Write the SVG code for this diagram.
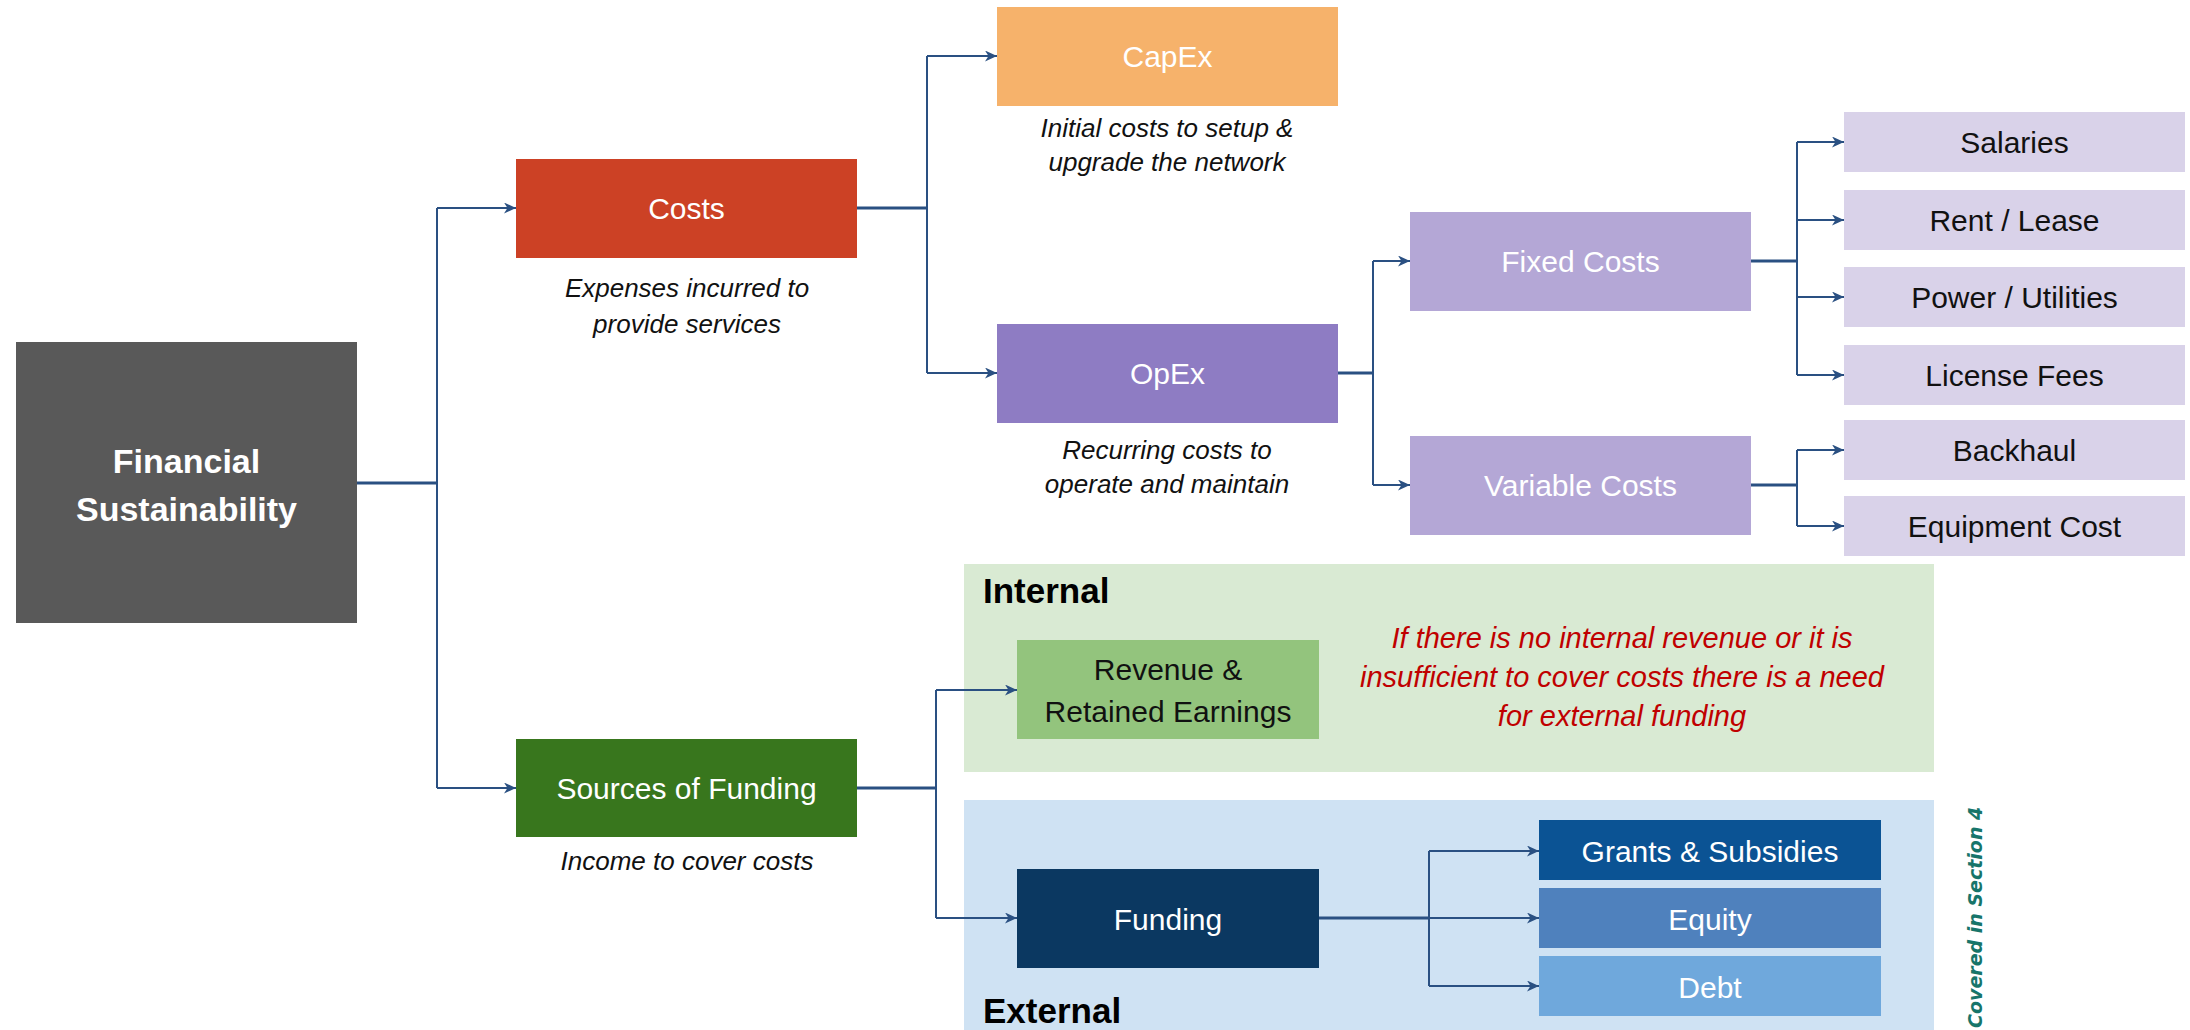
<svg xmlns="http://www.w3.org/2000/svg" width="2190" height="1030" viewBox="0 0 2190 1030">
<style>
.lbl{font-family:"Liberation Sans",Arial,sans-serif;font-size:30px;text-anchor:middle;fill:#ffffff}
.dk{fill:#111111}
.cap{font-family:"Liberation Sans",Arial,sans-serif;font-size:26px;font-style:italic;text-anchor:middle;fill:#111111}
.red{font-family:"Liberation Sans",Arial,sans-serif;font-size:29px;font-style:italic;text-anchor:middle;fill:#C00000}
.hdr{font-family:"Liberation Sans",Arial,sans-serif;font-size:35px;font-weight:bold;fill:#000000}
.ln{fill:none;stroke:#2A5082;stroke-width:2}
.stub{fill:none;stroke:#2A5082;stroke-width:3}
.arr{fill:none;stroke:#2A5082;stroke-width:2;marker-end:url(#ah)}
</style>
<defs>
<marker id="ah" markerUnits="userSpaceOnUse" markerWidth="13" markerHeight="11" refX="12" refY="5.5" orient="auto">
<path d="M0,0 L12,5.5 L0,11 L3.5,5.5 Z" fill="#2A5082"/>
</marker>
</defs>

<g id="bg-internal"><rect x="964" y="564" width="970" height="208" fill="#D9EAD3"/><text class="hdr" x="983" y="603">Internal</text></g>
<g id="bg-external"><rect x="964" y="800" width="970" height="240" fill="#CFE2F3"/><text class="hdr" x="983" y="1023">External</text></g>

<g id="connectors">
<path class="stub" d="M357,483 H437"/>
<path class="ln" d="M437,208 V788"/>
<path class="arr" d="M437,208 H516"/>
<path class="arr" d="M437,788 H516"/>

<path class="stub" d="M857,208 H927"/>
<path class="ln" d="M927,56 V373"/>
<path class="arr" d="M927,56 H997"/>
<path class="arr" d="M927,373 H997"/>

<path class="stub" d="M1338,373 H1373"/>
<path class="ln" d="M1373,261 V485"/>
<path class="arr" d="M1373,261 H1410"/>
<path class="arr" d="M1373,485 H1410"/>

<path class="stub" d="M1751,261 H1797"/>
<path class="ln" d="M1797,142 V375"/>
<path class="arr" d="M1797,142 H1844"/>
<path class="arr" d="M1797,220 H1844"/>
<path class="arr" d="M1797,297 H1844"/>
<path class="arr" d="M1797,375 H1844"/>

<path class="stub" d="M1751,485 H1797"/>
<path class="ln" d="M1797,450 V526"/>
<path class="arr" d="M1797,450 H1844"/>
<path class="arr" d="M1797,526 H1844"/>

<path class="stub" d="M857,788 H936"/>
<path class="ln" d="M936,690 V918"/>
<path class="arr" d="M936,690 H1017"/>
<path class="arr" d="M936,918 H1017"/>

<path class="stub" d="M1319,918 H1429"/>
<path class="ln" d="M1429,851 V986"/>
<path class="arr" d="M1429,851 H1539"/>
<path class="arr" d="M1429,918 H1539"/>
<path class="arr" d="M1429,986 H1539"/>
</g>

<g id="financial"><rect x="16" y="342" width="341" height="281" fill="#595959"/>
<text class="lbl" x="186.5" y="473" style="font-size:34px;font-weight:bold">Financial</text>
<text class="lbl" x="186.5" y="521" style="font-size:34px;font-weight:bold">Sustainability</text></g>

<g id="costs"><rect x="516" y="159" width="341" height="99" fill="#CC4125"/>
<text class="lbl" x="686.5" y="219">Costs</text>
<text class="cap" x="687" y="297">Expenses incurred to</text>
<text class="cap" x="687" y="333">provide services</text></g>

<g id="capex"><rect x="997" y="7" width="341" height="99" fill="#F6B26B"/>
<text class="lbl" x="1167.5" y="67">CapEx</text>
<text class="cap" x="1167" y="137">Initial costs to setup &amp;</text>
<text class="cap" x="1167" y="171">upgrade the network</text></g>

<g id="opex"><rect x="997" y="324" width="341" height="99" fill="#8E7CC3"/>
<text class="lbl" x="1167.5" y="384">OpEx</text>
<text class="cap" x="1167" y="459">Recurring costs to</text>
<text class="cap" x="1167" y="493">operate and maintain</text></g>

<g id="fixed"><rect x="1410" y="212" width="341" height="99" fill="#B4A7D6"/>
<text class="lbl" x="1580.5" y="272">Fixed Costs</text></g>
<g id="variable"><rect x="1410" y="436" width="341" height="99" fill="#B4A7D6"/>
<text class="lbl" x="1580.5" y="496">Variable Costs</text></g>

<g id="salaries"><rect x="1844" y="112" width="341" height="60" fill="#D9D2E9"/><text class="lbl dk" x="2014.5" y="153">Salaries</text></g>
<g id="rent"><rect x="1844" y="190" width="341" height="60" fill="#D9D2E9"/><text class="lbl dk" x="2014.5" y="231">Rent / Lease</text></g>
<g id="power"><rect x="1844" y="267" width="341" height="60" fill="#D9D2E9"/><text class="lbl dk" x="2014.5" y="308">Power / Utilities</text></g>
<g id="license"><rect x="1844" y="345" width="341" height="60" fill="#D9D2E9"/><text class="lbl dk" x="2014.5" y="386">License Fees</text></g>
<g id="backhaul"><rect x="1844" y="420" width="341" height="60" fill="#D9D2E9"/><text class="lbl dk" x="2014.5" y="461">Backhaul</text></g>
<g id="equipment"><rect x="1844" y="496" width="341" height="60" fill="#D9D2E9"/><text class="lbl dk" x="2014.5" y="537">Equipment Cost</text></g>

<g id="sources"><rect x="516" y="739" width="341" height="98" fill="#38761D"/>
<text class="lbl" x="686.5" y="799">Sources of Funding</text>
<text class="cap" x="687" y="870">Income to cover costs</text></g>

<g id="revenue"><rect x="1017" y="640" width="302" height="99" fill="#93C47D"/>
<text class="lbl dk" x="1168" y="680">Revenue &amp;</text>
<text class="lbl dk" x="1168" y="722">Retained Earnings</text></g>

<g id="note"><text class="red" x="1622" y="648">If there is no internal revenue or it is</text>
<text class="red" x="1622" y="687">insufficient to cover costs there is a need</text>
<text class="red" x="1622" y="726">for external funding</text></g>

<g id="funding"><rect x="1017" y="869" width="302" height="99" fill="#0B3861"/>
<text class="lbl" x="1168" y="930">Funding</text></g>

<g id="grants"><rect x="1539" y="820" width="342" height="60" fill="#0B5394"/><text class="lbl" x="1710" y="862">Grants &amp; Subsidies</text></g>
<g id="equity"><rect x="1539" y="888" width="342" height="60" fill="#4F81BD"/><text class="lbl" x="1710" y="930">Equity</text></g>
<g id="debt"><rect x="1539" y="956" width="342" height="60" fill="#6FA8DC"/><text class="lbl" x="1710" y="998">Debt</text></g>

<g id="covered"><text transform="translate(1982,1028) rotate(-90)" x="0" y="0" style="font-family:'DejaVu Sans',sans-serif;font-size:19px;font-weight:bold;font-style:italic;fill:#17756A">Covered in Section 4</text></g>
</svg>
